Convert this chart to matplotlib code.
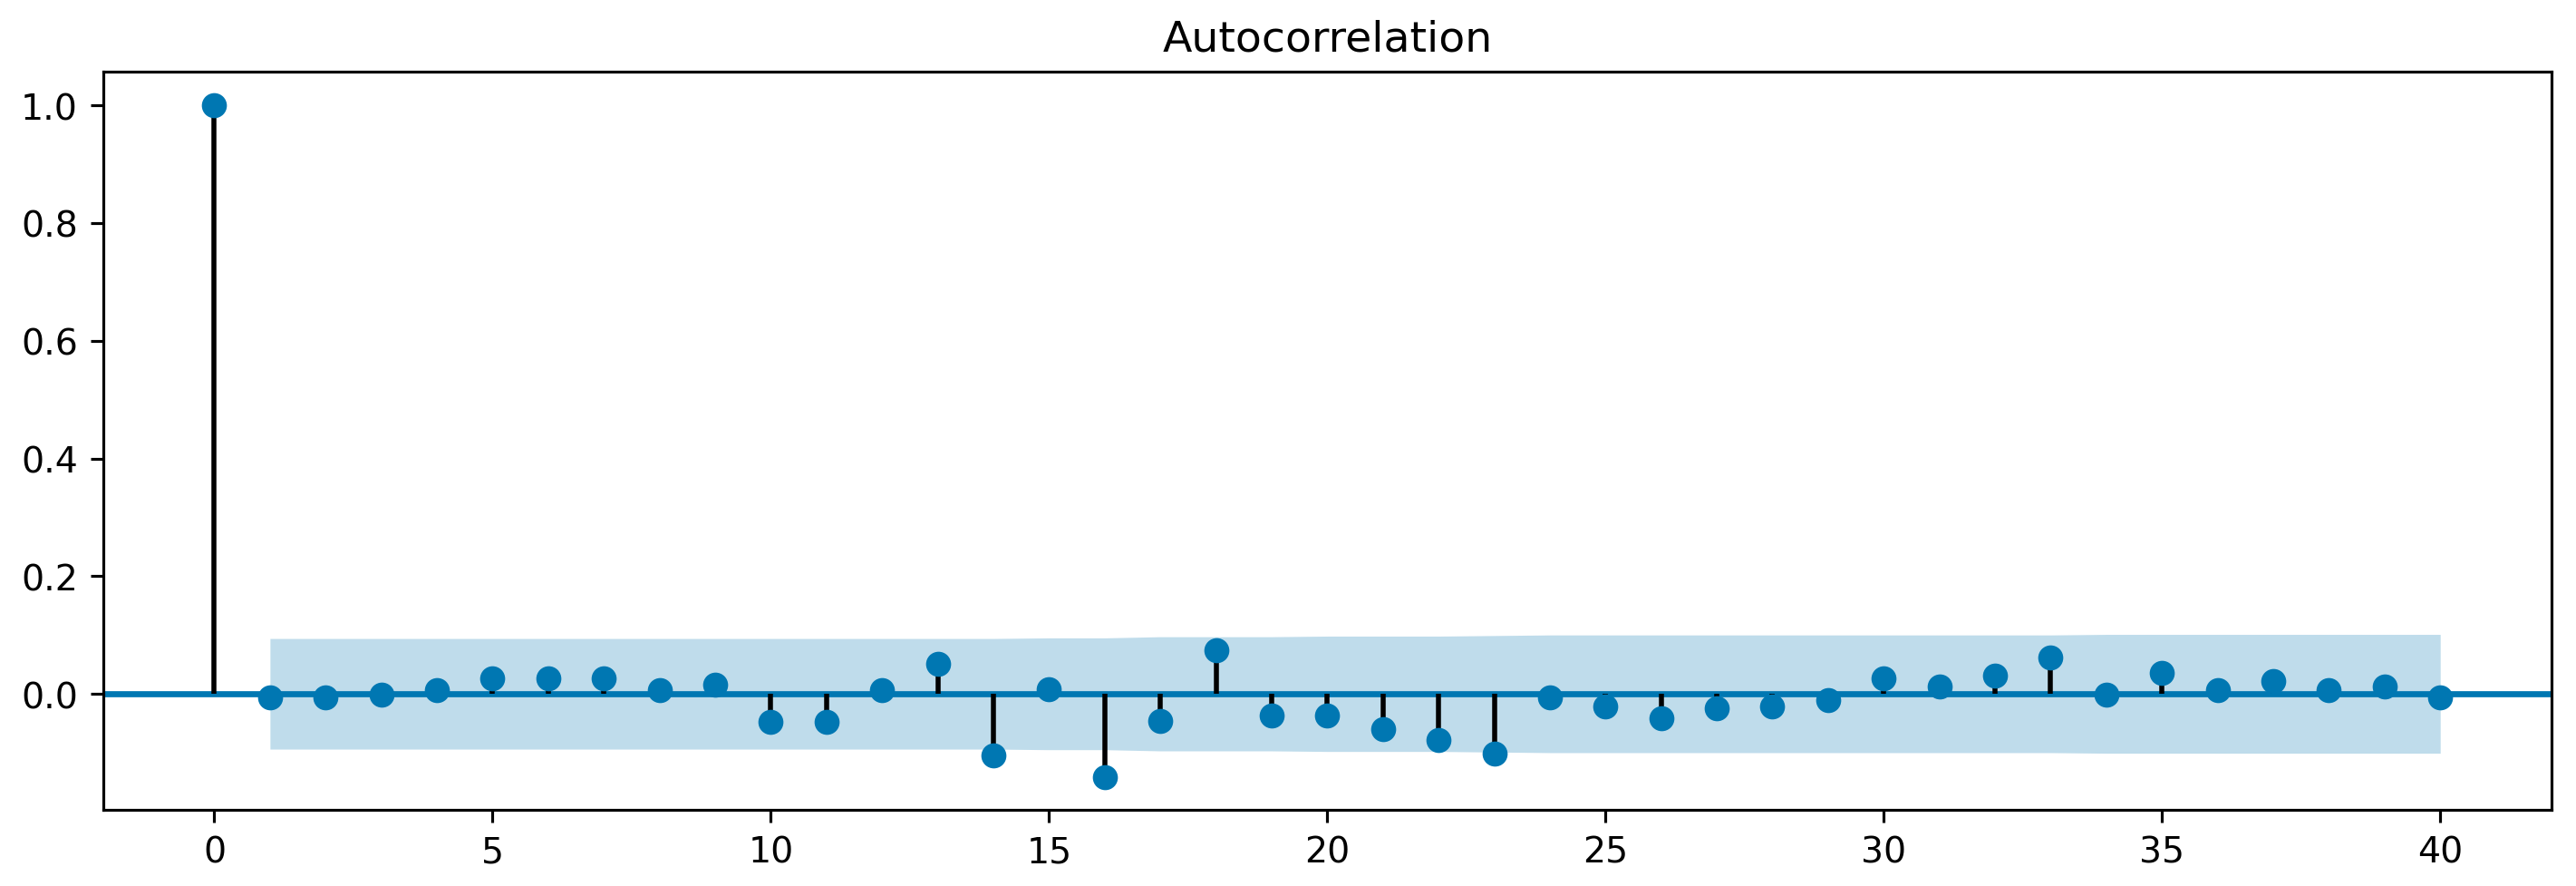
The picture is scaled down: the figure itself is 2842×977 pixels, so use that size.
import matplotlib
matplotlib.use("Agg")
import matplotlib.pyplot as plt
import numpy as np

# autocorrelation per lag
lags = list(range(0, 41))
acf = [1.0,
       -0.006, -0.006, -0.002, 0.007, 0.026, 0.026, 0.026, 0.007, 0.016, -0.047,
       -0.047, 0.007, 0.051, -0.105, 0.008, -0.141, -0.046, 0.074, -0.037, -0.037,
       -0.060, -0.078, -0.101, -0.006, -0.021, -0.042, -0.024, -0.021, -0.011, 0.027,
       0.012, 0.031, 0.062, -0.002, 0.036, 0.007, 0.022, 0.007, 0.012, -0.006]

# half width of the confidence band for lags 1..40
band = [0.094, 0.094, 0.094, 0.094, 0.094, 0.094, 0.094, 0.094, 0.094, 0.094,
        0.094, 0.094, 0.094, 0.094, 0.095, 0.095, 0.097, 0.097, 0.097, 0.098,
        0.098, 0.098, 0.099, 0.100, 0.100, 0.100, 0.100, 0.100, 0.100, 0.100,
        0.100, 0.100, 0.100, 0.101, 0.101, 0.101, 0.101, 0.101, 0.101, 0.101]

blue = '#0077b2'

fig = plt.figure(figsize=(10, 3.4412), dpi=284.2)
ax = fig.add_axes([0.040, 0.086, 0.9505, 0.832])

ax.vlines(lags, [0], acf, colors='black', lw=1.4, zorder=2)
ax.axhline(0, color=blue, lw=1.7, zorder=1)
ax.plot(lags, acf, 'o', color=blue, markersize=6, zorder=3)
band_lags = lags[1:]
ax.fill_between(band_lags, [-b for b in band], band, color=blue, alpha=0.25, lw=0, zorder=0)

ax.set_xlim(-2, 42)
ax.set_ylim(-0.197, 1.057)
ax.set_title('Autocorrelation')

fig.savefig('out.png', dpi=284.2)
